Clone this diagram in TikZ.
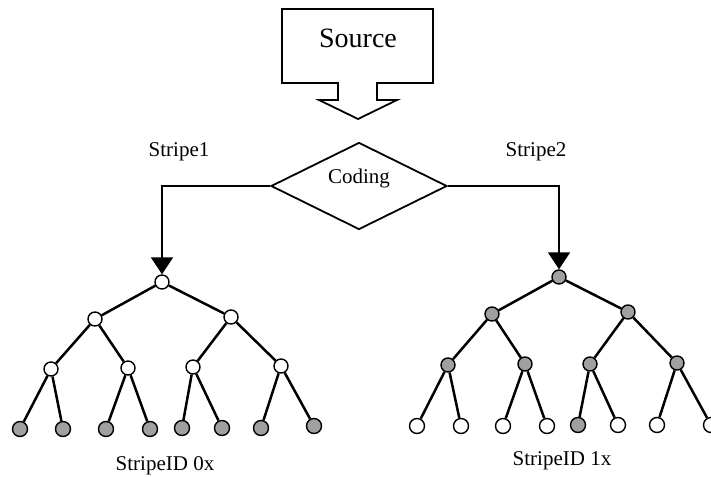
\documentclass[tikz,border=0pt]{standalone}
\usepackage{fontspec}
\setmainfont{Liberation Serif}
\usetikzlibrary{shapes.geometric,arrows.meta}
\definecolor{nodegray}{HTML}{A0A0A0}
\tikzset{
  wn/.style={circle,draw=black,line width=1.4pt,fill=white,minimum size=14pt,inner sep=0pt},
  gn/.style={circle,draw=black,line width=1.4pt,fill=nodegray,minimum size=14pt,inner sep=0pt},
  lf/.style={minimum size=15pt},
  edge/.style={line width=2.5pt,black},
  conn/.style={line width=1.8pt,black,-{Triangle[length=17pt,width=22pt]}},
  lbl/.style={font=\fontsize{21}{24}\selectfont,inner sep=0pt},
}
\begin{document}
\begin{tikzpicture}[x=1pt,y=-1pt]
\useasboundingbox (0,0) rectangle (711,476);
% Source block arrow
\draw[line width=1.8pt,fill=white] (282,9) -- (433,9) -- (433,83) -- (377,83) -- (377,100) -- (397,100)
  -- (358,119) -- (319,100) -- (338,100) -- (338,83) -- (282,83) -- cycle;
\node[inner sep=0pt,font=\fontsize{28}{30}\selectfont] (src) at (358,38) {Source};
% Coding diamond
\node[diamond,draw=black,line width=1.8pt,minimum width=176pt,minimum height=87pt,inner sep=0pt] (cod) at (359,186) {};
\node[lbl] (codt) at (359,178) {Coding};
\node[lbl] (s1) at (179,152) {Stripe1};
\node[lbl] (s2) at (536,152) {Stripe2};
% left tree
\node[wn] (a) at (162,282) {};
\node[wn] (a1) at (95,319) {};
\node[wn] (a2) at (231,317) {};
\node[wn] (a11) at (51,369) {};
\node[wn] (a12) at (128,368) {};
\node[wn] (a21) at (193,367) {};
\node[wn] (a22) at (281,366) {};
\node[gn,lf] (b1) at (20,429) {};
\node[gn,lf] (b2) at (63,429) {};
\node[gn,lf] (b3) at (106,429) {};
\node[gn,lf] (b4) at (150,429) {};
\node[gn,lf] (b5) at (182,428) {};
\node[gn,lf] (b6) at (222,428) {};
\node[gn,lf] (b7) at (261,428) {};
\node[gn,lf] (b8) at (314,426) {};
% right tree
\node[gn] (c) at (559,277) {};
\node[gn] (c1) at (492,314) {};
\node[gn] (c2) at (628,312) {};
\node[gn] (c11) at (448,365) {};
\node[gn] (c12) at (525,364) {};
\node[gn] (c21) at (590,364) {};
\node[gn] (c22) at (677,363) {};
\node[wn,lf] (d1) at (417,426) {};
\node[wn,lf] (d2) at (461,426) {};
\node[wn,lf] (d3) at (503,426) {};
\node[wn,lf] (d4) at (547,426) {};
\node[gn,lf] (d5) at (578,425) {};
\node[wn,lf] (d6) at (618,425) {};
\node[wn,lf] (d7) at (657,425) {};
\node[wn,lf] (d8) at (711,425) {};
% edges
\foreach \p/\q in {a/a1,a/a2,a1/a11,a1/a12,a2/a21,a2/a22,a11/b1,a11/b2,a12/b3,a12/b4,a21/b5,a21/b6,a22/b7,a22/b8,
  c/c1,c/c2,c1/c11,c1/c12,c2/c21,c2/c22,c11/d1,c11/d2,c12/d3,c12/d4,c21/d5,c21/d6,c22/d7,c22/d8}
  \draw[edge] (\p) -- (\q);
% connectors
\draw[conn] (cod.west) -| (a.north);
\draw[conn] (cod.east) -| (c.north);
\node[lbl] (id0) at (165,466) {StripeID 0x};
\node[lbl] (id1) at (562,461) {StripeID 1x};
\end{tikzpicture}
\end{document}
